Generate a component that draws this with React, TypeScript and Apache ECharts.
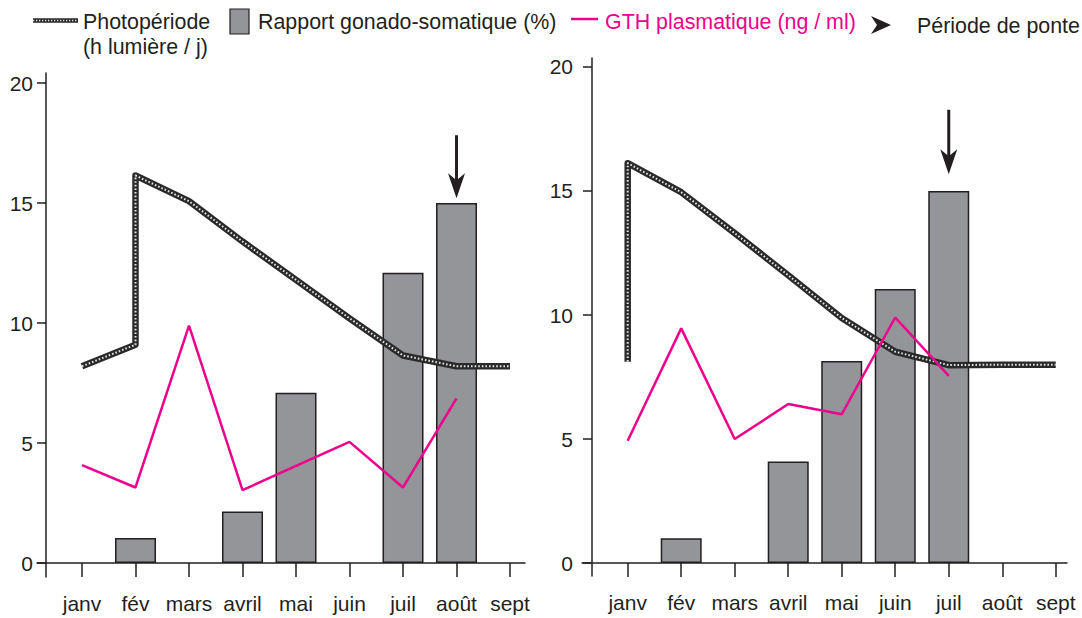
import React, { useEffect, useRef } from "react";
import * as echarts from "echarts";

// ---------- data ----------
const months = ["janv", "fév", "mars", "avril", "mai", "juin", "juil", "août", "sept"];
const monthIdx = [0, 1, 2, 3, 4, 5, 6, 7, 8];
const yTicks = [0, 5, 10, 15, 20];

// left panel
const gsiLeft = [null, 1.05, null, 2.15, 7.1, null, 12.1, 15, null];
const gthLeft = [4.08, 3.15, 9.89, 3.04, 4.05, 5.05, 3.15, 6.86];
const photoLeftMonth = [0, 1, 1, 2, 3, 4, 5, 6, 7, 8];
const photoLeftValue = [8.2, 9.1, 16.15, 15.08, 13.4, 11.8, 10.2, 8.65, 8.2, 8.2];
const spawnLeft = { month: 7, from: 17.83, to: 15.2 };

// right panel
const gsiRight = [null, 1.0, null, 4.1, 8.15, 11.05, 15, null, null];
const gthRight = [4.93, 9.46, 5.0, 6.41, 6.0, 9.9, 7.55];
const photoRightMonth = [0, 0, 1, 2, 3, 4, 5, 6, 7, 8];
const photoRightValue = [8.12, 16.12, 14.95, 13.3, 11.6, 9.88, 8.52, 7.98, 8.0, 8.0];
const spawnRight = { month: 6, from: 18.27, to: 15.67 };

// legend texts
const legPhoto1 = "Photopériode";
const legPhoto2 = "(h lumière / j)";
const legGsi = "Rapport gonado-somatique (%)";
const legGth = "GTH plasmatique (ng / ml)";
const legSpawn = "Période de ponte";

// ---------- style ----------
const ink = "#231f20";
const barGray = "#939598";
const pink = "#ec008c";
const photoDark = "#2a2a2a";
const photoLight = "#e4e4e4";
const fontFamily = '"Liberation Sans", Arial, Helvetica, sans-serif';
const fsAxis = 21;
const fsLegend = 21.4;
const arrowHead = "path://M8.5,25L0,0L8.5,7L17,0Z";

function barData(vals: (number | null)[]) {
  const out: [number, number][] = [];
  vals.forEach((v, i) => {
    if (v !== null) out.push([i, v]);
  });
  return out;
}
function lineData(vals: number[]) {
  return vals.map((v, i) => [i, v]);
}
function pairData(xs: number[], ys: number[]) {
  return xs.map((x, i) => [x, ys[i]]);
}

function makeX(gridIndex: number, min: number, max: number) {
  return {
    gridIndex,
    type: "value",
    min,
    max,
    axisLine: { show: true, onZero: true, lineStyle: { color: ink, width: 1.5 } },
    axisTick: { show: true, customValues: monthIdx, length: 14, lineStyle: { color: ink, width: 1.5 } },
    axisLabel: {
      customValues: monthIdx,
      formatter: (v: number) => months[Math.round(v)] ?? "",
      fontSize: fsAxis,
      fontFamily,
      color: ink,
      margin: 16,
    },
    splitLine: { show: false },
  };
}

function makeY(gridIndex: number, min: number, max: number, offset: number, margin: number) {
  return {
    gridIndex,
    type: "value",
    min,
    max,
    offset,
    axisLine: { show: true, onZero: false, lineStyle: { color: ink, width: 1.5 } },
    axisTick: { show: true, customValues: yTicks, length: 9, lineStyle: { color: ink, width: 1.5 } },
    axisLabel: { customValues: yTicks, fontSize: fsAxis, fontFamily, color: ink, margin },
    splitLine: { show: false },
  };
}

function panelSeries(
  idx: number,
  gsi: (number | null)[],
  gth: number[],
  photoX: number[],
  photoY: number[],
  spawn: { month: number; from: number; to: number }
) {
  const photo = pairData(photoX, photoY);
  return [
    {
      type: "bar",
      xAxisIndex: idx,
      yAxisIndex: idx,
      data: barData(gsi),
      barWidth: 41,
      itemStyle: { color: barGray, borderColor: ink, borderWidth: 1.5 },
    },
    {
      type: "line",
      xAxisIndex: idx,
      yAxisIndex: idx,
      data: photo,
      symbol: "none",
      lineStyle: { color: photoDark, width: 6.5, join: "round", cap: "butt" },
    },
    {
      type: "line",
      xAxisIndex: idx,
      yAxisIndex: idx,
      data: photo,
      symbol: "none",
      lineStyle: { color: photoLight, width: 2, type: [1.6, 2], join: "round" },
    },
    {
      type: "line",
      xAxisIndex: idx,
      yAxisIndex: idx,
      data: lineData(gth),
      symbol: "none",
      lineStyle: { color: pink, width: 2.5 },
    },
    // spawning arrow: shaft
    {
      type: "line",
      xAxisIndex: idx,
      yAxisIndex: idx,
      data: [
        [spawn.month, spawn.from],
        [spawn.month, (spawn.from + spawn.to * 3) / 4],
      ],
      symbol: "none",
      lineStyle: { color: ink, width: 3 },
      z: 6,
    },
    // spawning arrow: head (tip on the data point)
    {
      type: "scatter",
      xAxisIndex: idx,
      yAxisIndex: idx,
      data: [[spawn.month, spawn.to]],
      symbol: arrowHead,
      symbolSize: [17, 25],
      symbolOffset: [0, -12.5],
      itemStyle: { color: ink, opacity: 1 },
      z: 6,
    },
  ];
}

function textEl(text: string, x: number, y: number, fill = ink) {
  return {
    type: "text",
    x,
    y,
    style: { text, fontSize: fsLegend, fontFamily, fill, verticalAlign: "middle", align: "left" },
  };
}

export default function App() {
  const ref = useRef<HTMLDivElement>(null);
  useEffect(() => {
    if (!ref.current) return;
    const chart = echarts.init(ref.current, null, { renderer: "svg" });
    const option: any = {
      animation: false,
      backgroundColor: "#ffffff",
      grid: [
        { left: 37, top: 73, width: 488, height: 504, outerBoundsMode: "none", containLabel: false },
        { left: 582, top: 58, width: 485, height: 518, outerBoundsMode: "none", containLabel: false },
      ],
      xAxis: [makeX(0, -0.841, 8.28), makeX(1, -0.854, 8.21)],
      yAxis: [makeY(0, -0.58, 20.42, -9, 13), makeY(1, -0.52, 20.36, -10, 19)],
      series: [
        ...panelSeries(0, gsiLeft, gthLeft, photoLeftMonth, photoLeftValue, spawnLeft),
        ...panelSeries(1, gsiRight, gthRight, photoRightMonth, photoRightValue, spawnRight),
      ],
      graphic: [
        { type: "line", shape: { x1: 33, y1: 20.5, x2: 78, y2: 20.5 }, style: { stroke: photoDark, lineWidth: 4.5 } },
        {
          type: "line",
          shape: { x1: 33, y1: 20.5, x2: 78, y2: 20.5 },
          style: { stroke: photoLight, lineWidth: 1.4, lineDash: [1.3, 1.7] },
        },
        textEl(legPhoto1, 83, 22),
        textEl(legPhoto2, 83, 47),
        {
          type: "rect",
          shape: { x: 230, y: 9, width: 19, height: 25 },
          style: { fill: barGray, stroke: ink, lineWidth: 1.2 },
        },
        textEl(legGsi, 258, 22),
        { type: "line", shape: { x1: 571, y1: 19, x2: 598, y2: 19 }, style: { stroke: pink, lineWidth: 2.5 } },
        textEl(legGth, 605, 22, pink),
        {
          type: "polygon",
          shape: { points: [[891, 25], [871, 16], [877, 25], [871, 34]] },
          style: { fill: ink },
        },
        textEl(legSpawn, 917, 26),
      ],
    };
    chart.setOption(option);
    return () => chart.dispose();
  }, []);
  return (
    <div
      ref={ref}
      style={{ position: "fixed", left: 0, top: 0, width: 1082, height: 618, background: "#fff" }}
    />
  );
}
